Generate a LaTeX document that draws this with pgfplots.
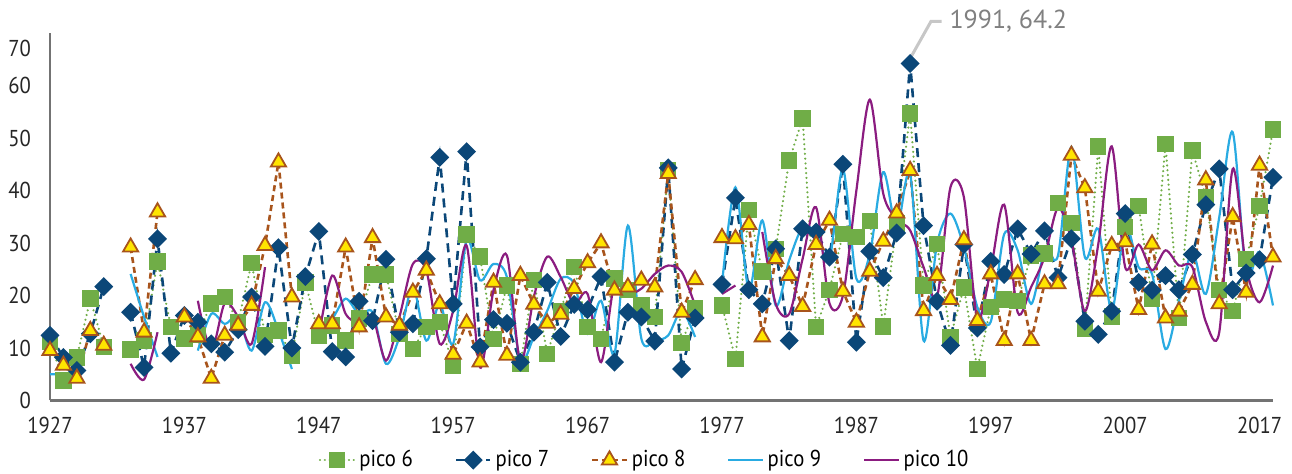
\documentclass[border=0pt]{standalone}
\usepackage{fontspec}
\setmainfont{PT Sans}[FakeStretch=0.9]
\newfontfamily\annfont{PT Sans}
\usepackage{pgfplots}
\pgfplotsset{compat=1.18}
\usepackage{pgfplotstable}
\definecolor{cSix}{HTML}{70AD47}
\definecolor{cSeven}{HTML}{0B4778}
\definecolor{cEight}{HTML}{A8541C}
\definecolor{cEightFill}{HTML}{FFE500}
\definecolor{cNine}{HTML}{29ABE2}
\definecolor{cTen}{HTML}{8B1C80}
\pgfplotstableread{
year p6 p7 p8 p9 p10
1927 11.1 12.4 9.5 5.0 nan
1928 3.8 8.2 6.7 4.9 nan
1929 8.2 5.7 4.2 3.8 nan
1930 19.4 12.7 13.3 nan nan
1931 10.2 21.7 10.5 nan nan
1932 nan nan nan nan nan
1933 9.7 16.8 29.2 24.1 7.0
1934 11.4 6.3 13.0 15.9 4.0
1935 26.5 30.8 35.9 8.3 13.0
1936 14.0 9.0 nan nan nan
1937 11.8 16.2 15.9 nan nan
1938 12.5 14.9 12.1 9.5 19.0
1939 18.5 10.8 4.2 16.5 9.5
1940 19.7 9.2 12.4 14.6 18.5
1941 15.0 13.5 14.3 15.9 15.9
1942 26.2 19.7 18.1 9.5 10.8
1943 12.5 10.3 29.5 18.7 25.4
1944 13.3 29.1 45.4 13.3 nan
1945 8.6 10.0 19.7 6.0 nan
1946 22.5 23.6 nan nan nan
1947 12.4 32.2 14.6 14.0 12.4
1948 14.3 9.3 14.6 15.6 23.8
1949 11.4 8.3 29.2 19.4 16.5
1950 15.6 18.9 14.0 16.4 14.8
1951 24.0 15.2 31.0 16.8 15.9
1952 24.0 26.9 15.9 7.0 7.6
1953 12.7 13.0 14.3 12.1 15.9
1954 9.8 14.6 20.6 21.6 26.0
1955 14.0 27.0 24.8 11.4 24.8
1956 14.9 46.3 18.4 18.4 10.8
1957 6.7 18.4 8.8 10.8 17.1
1958 31.6 47.4 14.7 30.5 29.5
1959 27.4 10.2 7.3 22.9 6.3
1960 11.7 15.4 22.5 26.0 21.0
1961 21.9 14.7 8.6 23.5 27.6
1962 6.9 7.3 23.8 7.6 7.3
1963 22.9 13.0 18.3 12.1 19.7
1964 8.9 22.5 14.7 17.1 27.4
1965 17.1 12.2 16.4 23.2 23.5
1966 25.4 18.3 21.3 22.2 18.4
1967 14.0 17.3 26.2 12.7 20.3
1968 11.7 23.6 30.0 19.0 7.3
1969 23.2 7.3 21.0 8.9 22.2
1970 21.0 16.8 21.6 33.3 20.3
1971 18.1 15.9 22.9 11.8 21.3
1972 15.9 11.3 21.6 11.4 24.1
1973 43.8 44.3 43.2 12.4 25.7
1974 11.0 6.0 16.8 17.1 24.5
1975 17.5 15.7 23.0 12.1 18.1
1976 nan nan nan nan nan
1977 18.1 22.1 31.0 22.2 20.3
1978 7.9 38.6 30.8 40.6 21.9
1979 36.3 21.1 33.5 21.0 nan
1980 24.6 18.4 12.1 34.3 32.1
1981 28.9 28.9 27.0 18.1 18.4
1982 45.7 11.4 23.8 26.7 16.5
1983 53.7 32.7 17.9 33.0 27.0
1984 14.0 32.1 29.7 32.0 36.8
1985 21.1 27.3 34.3 27.0 18.5
1986 31.7 45.0 20.8 44.1 20.0
1987 31.1 11.1 14.9 23.2 40.0
1988 34.2 28.4 24.6 27.9 57.3
1989 14.1 23.4 30.3 43.5 39.4
1990 33.7 31.9 35.7 32.7 34.6
1991 54.7 64.2 43.8 43.2 32.4
1992 21.9 33.3 17.1 11.4 25.4
1993 29.8 18.9 23.8 29.8 19.7
1994 12.1 10.5 19.2 35.6 40.6
1995 21.5 29.7 30.6 29.2 38.7
1996 6.0 13.8 15.2 17.8 15.6
1997 17.8 26.5 24.1 15.0 25.0
1998 19.2 24.0 11.4 31.7 37.3
1999 19.0 32.7 24.1 28.6 16.8
2000 27.6 27.9 11.4 18.4 21.6
2001 28.0 32.3 22.2 28.3 27.3
2002 37.6 23.4 22.2 27.6 36.7
2003 33.8 30.8 46.7 48.3 30.5
2004 13.7 15.1 40.5 27.3 17.0
2005 48.4 12.6 20.8 32.7 29.8
2006 16.0 17.0 29.5 17.1 48.4
2007 33.1 35.6 30.2 33.3 25.4
2008 37.1 22.5 17.3 25.4 29.7
2009 19.4 21.0 29.8 24.1 24.8
2010 48.8 23.8 15.7 9.8 28.6
2011 15.7 21.1 17.0 19.0 25.7
2012 47.6 27.8 22.1 28.3 25.4
2013 38.7 37.3 42.0 20.3 15.0
2014 21.1 44.1 18.4 34.9 13.0
2015 17.0 21.1 35.0 51.1 44.1
2016 27.0 24.3 20.6 24.1 25.4
2017 37.0 26.8 44.8 28.3 18.7
2018 51.6 42.5 27.3 18.1 25.7
}\data
\begin{document}
\begin{tikzpicture}
\begin{axis}[
  name=ax,
  scale only axis,
  width=611.5pt, height=183.75pt,
  xmin=1927, xmax=2018, ymin=0, ymax=70,
  axis x line=bottom, axis y line=left,
  axis line style={draw=black!55, line width=1.2pt, -},
  xtick={1927,1937,...,2017},
  ytick={0,10,...,60},
  extra y ticks={70},
  extra y tick style={yticklabel style={yshift=-7.5pt}},
  major tick length=0pt,
  xticklabel style={yshift=-5pt},
  yticklabel style={xshift=-6pt},
  /pgf/number format/1000 sep={},
  /pgf/number format/assume math mode=true,
  tick label style={font=\fontsize{11.5}{13}\selectfont, text=black!85},
  unbounded coords=jump,
  clip=false,
  legend columns=5,
  legend style={draw=none, fill=none, at={(0.487,-0.113)}, anchor=north,
    font=\fontsize{11.5}{13}\selectfont,
    /tikz/every even column/.append style={column sep=19pt}},
  legend cell align=left,
]
\addplot[cSix, line width=1.2pt, line cap=round, dash pattern=on 0.01pt off 2.4pt,
  mark=square*, mark size=3.5pt, mark options={solid, fill=cSix, draw=cSix}]
  table[x=year, y=p6] {\data};
\addlegendentry{pico 6}
\addplot[cSeven, line width=1.3pt, dash pattern=on 4.5pt off 3pt,
  mark=square*, mark size=2.7pt, mark options={solid, rotate=45, fill=cSeven, draw=cSeven}]
  table[x=year, y=p7] {\data};
\addlegendentry{pico 7}
\addplot[cEight, line width=1.3pt, dash pattern=on 3pt off 2pt,
  mark=triangle*, mark size=4.4pt, mark options={solid, fill=cEightFill, draw=cEight, line width=0.9pt}]
  table[x=year, y=p8] {\data};
\addlegendentry{pico 8}
\addplot[cNine, line width=1.1pt, smooth, no markers]
  table[x=year, y=p9] {\data};
\addlegendentry{pico 9}
\addplot[cTen, line width=1.1pt, smooth, no markers]
  table[x=year, y=p10] {\data};
\addlegendentry{pico 10}
\draw[black!22, line width=1.5pt] (axis cs:1991.1,65.6) -- (axis cs:1992.55,72.2) -- (axis cs:1993.35,72.2);
\node[anchor=west, text=black!50, font=\annfont\fontsize{13}{15}\selectfont, inner sep=0pt] at (axis cs:1993.9,72.2) {1991, 64.2};
\end{axis}
\pgfresetboundingbox
\useasboundingbox ([xshift=-25pt,yshift=-36.5pt]ax.south west) rectangle ([xshift=9.5pt,yshift=16.5pt]ax.north east);
\end{tikzpicture}
\end{document}
